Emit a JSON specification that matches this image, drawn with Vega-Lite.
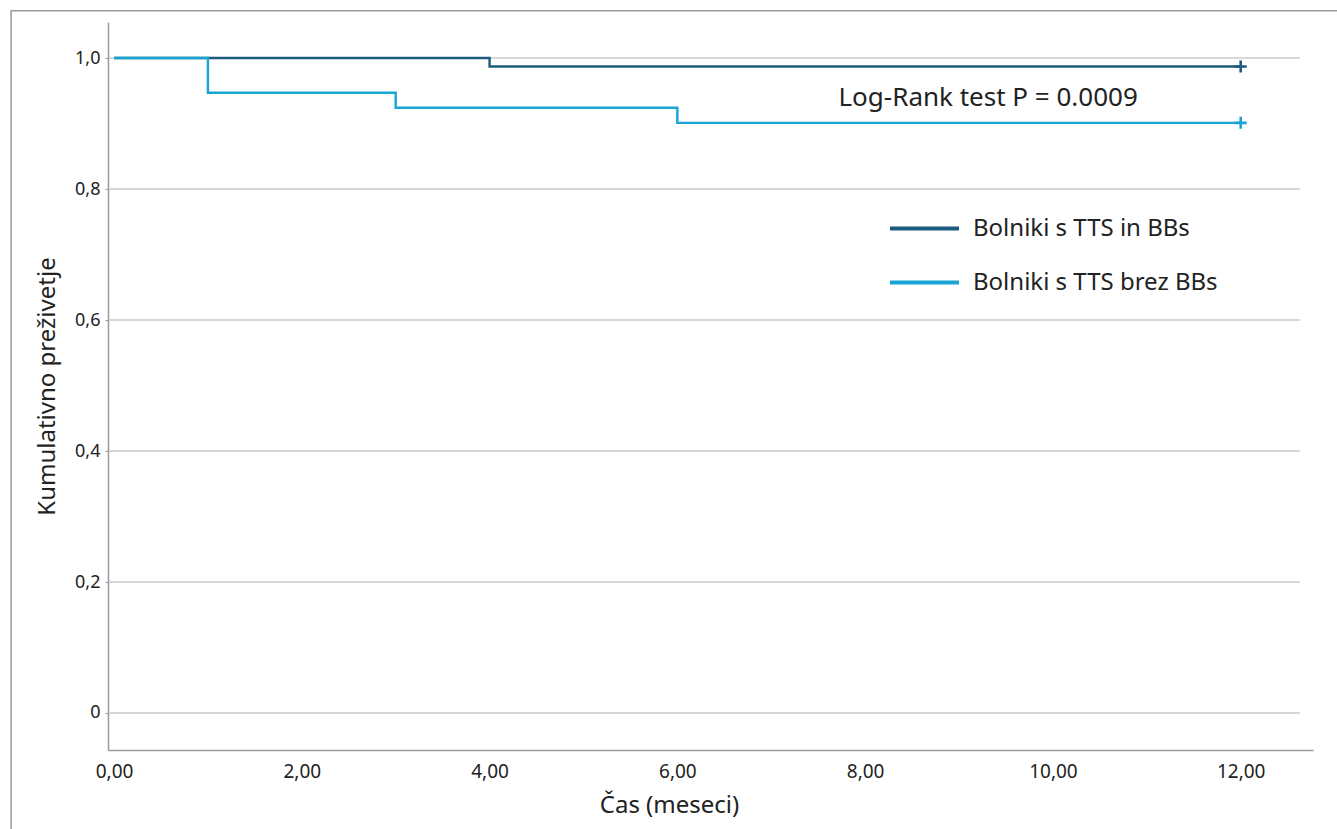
{
  "$schema": "https://vega.github.io/schema/vega-lite/v6.json",
  "width": 1205,
  "height": 728,
  "autosize": {"type": "none"},
  "padding": {"left": 108, "top": 22, "right": 24, "bottom": 79},
  "background": "white",
  "config": {
    "view": {"stroke": null},
    "font": "Noto Sans"
  },
  "datasets": {
    "curves": [
      {"time": 0, "surv": 1.0, "group": "Bolniki s TTS in BBs"},
      {"time": 4, "surv": 0.987, "group": "Bolniki s TTS in BBs"},
      {"time": 12, "surv": 0.987, "group": "Bolniki s TTS in BBs"},
      {"time": 0, "surv": 1.0, "group": "Bolniki s TTS brez BBs"},
      {"time": 1, "surv": 0.947, "group": "Bolniki s TTS brez BBs"},
      {"time": 3, "surv": 0.924, "group": "Bolniki s TTS brez BBs"},
      {"time": 6, "surv": 0.901, "group": "Bolniki s TTS brez BBs"},
      {"time": 12, "surv": 0.901, "group": "Bolniki s TTS brez BBs"}
    ],
    "censored": [
      {"time": 12, "surv": 0.987, "group": "Bolniki s TTS in BBs"},
      {"time": 12, "surv": 0.901, "group": "Bolniki s TTS brez BBs"}
    ],
    "grid": [
      {"v": 0}, {"v": 0.2}, {"v": 0.4}, {"v": 0.6}, {"v": 0.8}, {"v": 1.0}
    ],
    "note": [
      {"label": "Log-Rank test P = 0.0009", "time": 9.31, "surv": 0.939}
    ]
  },
  "layer": [
    {
      "data": {"values": [{}]},
      "mark": {"type": "rect", "fill": null, "stroke": "#9a9a9a", "strokeWidth": 1.5, "clip": false},
      "encoding": {
        "x": {"datum": -1.096, "type": "quantitative", "scale": {"domain": [-0.064, 12.77]}},
        "x2": {"datum": 16},
        "y": {"datum": 1.072, "type": "quantitative"},
        "y2": {"datum": -0.4}
      }
    },
    {
      "data": {"name": "grid"},
      "mark": {"type": "rule", "stroke": "#b0b0b0", "strokeWidth": 1},
      "encoding": {
        "x": {"datum": -0.064, "type": "quantitative"},
        "x2": {"datum": 12.63},
        "y": {"field": "v", "type": "quantitative"}
      }
    },
    {
      "data": {"name": "curves"},
      "mark": {"type": "line", "interpolate": "step-after", "strokeWidth": 2.4},
      "encoding": {
        "x": {
          "field": "time", "type": "quantitative",
          "scale": {"domain": [-0.064, 12.77], "nice": false, "zero": false},
          "axis": {
            "title": "Čas (meseci)",
            "values": [0, 2, 4, 6, 8, 10, 12],
            "labelExpr": "replace(format(datum.value, '.2f'), '.', ',')",
            "grid": false, "ticks": false,
            "domainColor": "#9a9a9a", "domainWidth": 1.5,
            "labelFontSize": 19, "labelColor": "#222", "labelPadding": 12,
            "titleFontSize": 24, "titleFontWeight": "normal", "titleColor": "#222", "titlePadding": 12,
            "titleX": 561, "titleAnchor": "start", "titleAlign": "center"
          }
        },
        "y": {
          "field": "surv", "type": "quantitative",
          "scale": {"domain": [-0.0565, 1.055], "nice": false, "zero": false},
          "axis": {
            "title": "Kumulativno preživetje",
            "values": [0, 0.2, 0.4, 0.6, 0.8, 1.0],
            "labelExpr": "datum.value == 0 ? '0' : replace(format(datum.value, '.1f'), '.', ',')",
            "grid": false, "ticks": true, "tickSize": 3, "tickColor": "#9a9a9a",
            "domainColor": "#9a9a9a", "domainWidth": 1.5,
            "labelFontSize": 18, "labelColor": "#222", "labelPadding": 5,
            "titleFontSize": 24, "titleFontWeight": "normal", "titleColor": "#222", "titlePadding": 15
          }
        },
        "color": {
          "field": "group", "type": "nominal",
          "scale": {"domain": ["Bolniki s TTS in BBs", "Bolniki s TTS brez BBs"], "range": ["#1b5b7e", "#19a5d3"]},
          "legend": {
            "title": null,
            "orient": "none",
            "legendX": 780,
            "legendY": 170,
            "symbolType": "stroke",
            "symbolSize": 4761,
            "symbolStrokeWidth": 4,
            "labelFontSize": 24,
            "labelColor": "#222",
            "labelOffset": 12,
            "labelLimit": 0,
            "rowPadding": 5
          }
        }
      }
    },
    {
      "data": {"name": "censored"},
      "mark": {"type": "point", "shape": "M-1,0H1M0,-1V1", "size": 144, "strokeWidth": 2.6, "filled": false, "opacity": 1},
      "encoding": {
        "x": {"field": "time", "type": "quantitative"},
        "y": {"field": "surv", "type": "quantitative"},
        "color": {"field": "group", "type": "nominal", "legend": null}
      }
    },
    {
      "data": {"name": "note"},
      "mark": {"type": "text", "fontSize": 26, "color": "#222", "align": "center", "baseline": "middle"},
      "encoding": {
        "x": {"field": "time", "type": "quantitative"},
        "y": {"field": "surv", "type": "quantitative"},
        "text": {"field": "label"}
      }
    }
  ]
}
